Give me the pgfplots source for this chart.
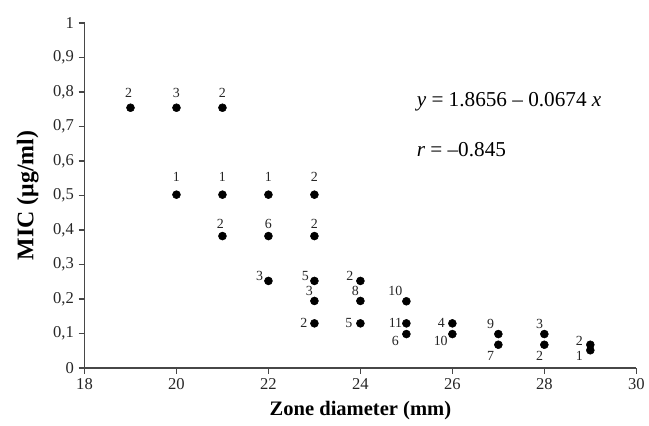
\documentclass[border=0pt]{standalone}
\usepackage{pgfplots}
\usepackage{pgfplotstable}
\pgfplotsset{compat=1.18}
\usepackage{fontspec}
\setmainfont{Liberation Serif}

% x, y, count label, label offset (px) dx, dy
\pgfplotstableread{
x  y     n  dx    dy
19 0.754 2  -2    15
20 0.754 3  0     15
21 0.754 2  0     15
20 0.502 1  0     18
21 0.502 1  0     18
22 0.502 1  0     18
23 0.502 2  0     18
21 0.382 2  -2    12
22 0.382 6  0     12
23 0.382 2  0     12
22 0.252 3  -9    5
23 0.252 5  -9    5
24 0.252 2  -10.7 5
23 0.194 3  -5    10
24 0.194 8  -5    10
23 0.129 2  -10.7 0
24 0.129 5  -11.7 0
25 0.193 10 -11   10.7
25 0.129 11 -11   0
25 0.098 6  -11   -6.7
26 0.129 4  -11   0
26 0.098 10 -11.7 -6.7
27 0.098 9  -7.7  10
27 0.067 7  -7.7  -11.7
28 0.098 3  -4.7  10
28 0.067 2  -4.7  -11.7
29 0.067 2  -11   4
29 0.051 1  -11   -6
}\micdata

\begin{document}
\begin{tikzpicture}
\begin{axis}[
  scale only axis,
  width=416.25pt, height=260.25pt,
  xmin=18, xmax=30, ymin=0, ymax=1,
  axis lines*=left,
  axis line style={draw=black!72, line width=1.3pt},
  tick style={draw=black!72, line width=1.2pt},
  tick align=outside,
  major tick length=4.5pt,
  xtick={18,20,...,30},
  ytick={0,0.1,...,1.0},
  /pgf/number format/use comma,
  /pgf/number format/assume math mode=true,
  tick label style={font=\fontsize{12.5}{14}\selectfont, text=black!85},
  xlabel={\textbf{Zone diameter (mm)}},
  ylabel={\textbf{MIC (μg/ml)}},
  xlabel style={font=\fontsize{15.5}{17}\selectfont, yshift=-2pt},
  ylabel style={font=\fontsize{18}{20}\selectfont, yshift=4pt},
  clip=false,
]
\addplot[only marks, mark=*, mark size=3pt, black,
  point meta=explicit symbolic,
  visualization depends on={\thisrow{dx}\as\mydx},
  visualization depends on={\thisrow{dy}\as\mydy},
  nodes near coords,
  every node near coord/.append style={anchor=center, inner sep=0pt,
    font=\fontsize{10.5}{12}\selectfont, text=black!85,
    xshift=0.75*\mydx pt, yshift=0.75*\mydy pt},
] table[x=x, y=y, meta=n] {\micdata};
\node[anchor=west, font=\fontsize{16}{18}\selectfont, inner sep=0pt] at (axis cs:25.22,0.772) {\textit{y} = 1.8656 – 0.0674 \textit{x}};
\node[anchor=west, font=\fontsize{16}{18}\selectfont, inner sep=0pt] at (axis cs:25.22,0.634) {\textit{r} = –0.845};
\end{axis}
\useasboundingbox (-63.75pt,-43.5pt) rectangle (423pt,277.5pt);
\end{tikzpicture}
\end{document}
